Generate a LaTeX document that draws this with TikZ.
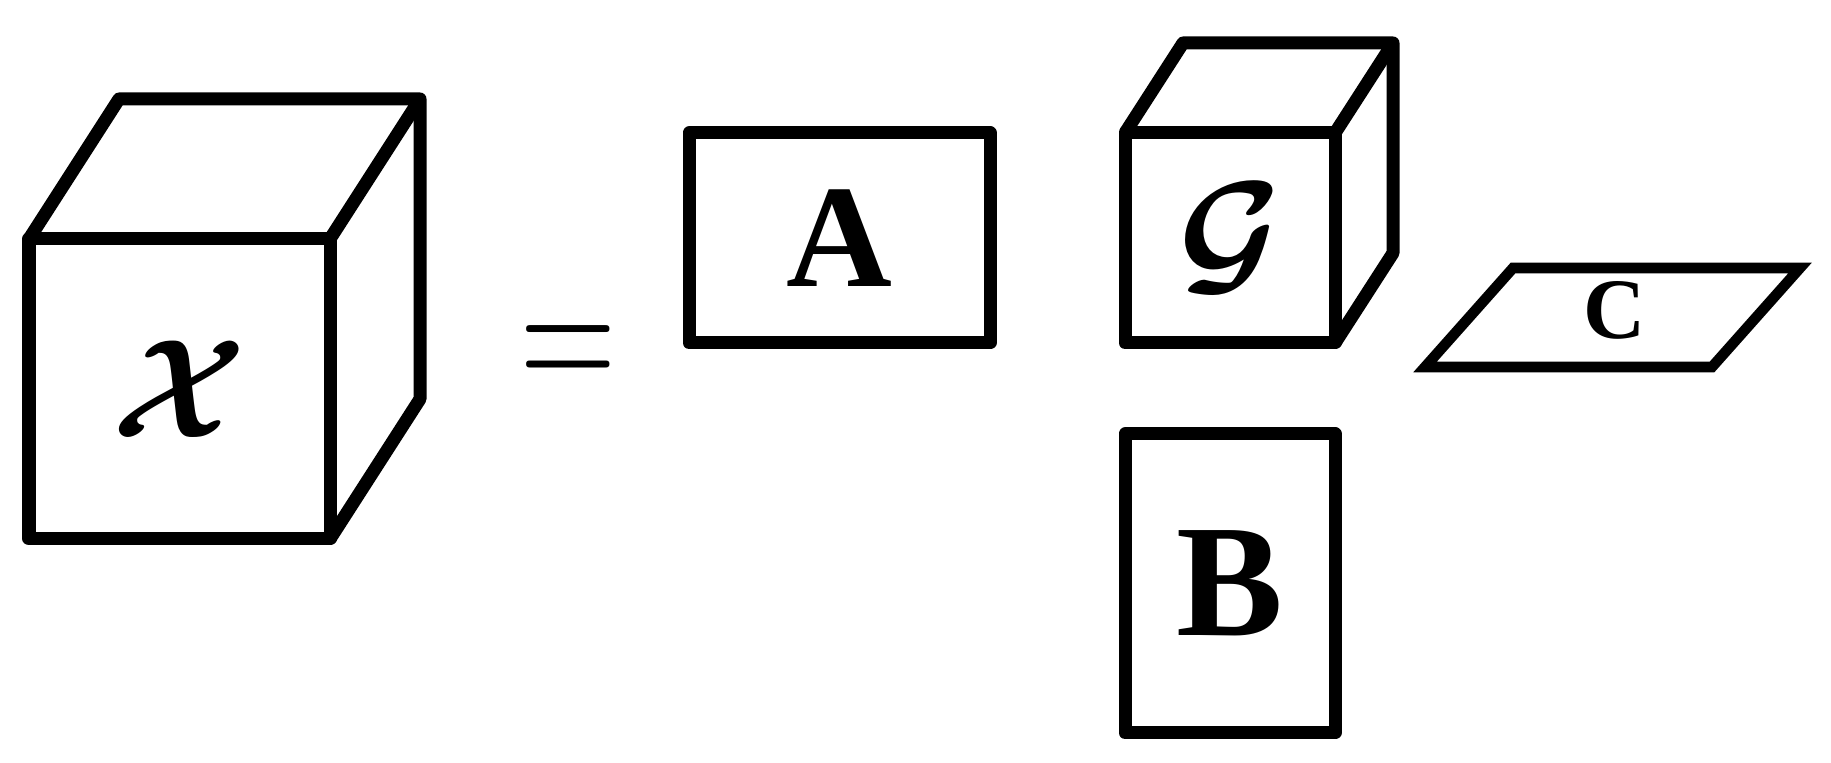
\documentclass[tikz,border=0pt]{standalone}
\usepackage{fix-cm}
\usepackage{amsmath}
\usepackage{graphicx}
\usepackage{fontspec}
\usepackage{tikz}
\usetikzlibrary{positioning}

\newfontfamily\serifbold{Liberation Serif}

\tikzset{
  box/.style={line width=3.7pt, line join=round},
  flat/.style={line width=3pt, line join=miter},
  letter/.style={inner sep=0pt, font=\fontsize{40}{48}\selectfont\boldmath},
  bold letter/.style={inner sep=0pt, font=\serifbold\bfseries\fontsize{#1}{#1}\selectfont}
}

\begin{document}
\begin{tikzpicture}

    \useasboundingbox (0, 0) rectangle (18.31, 7.63);

    % the big cube
    \draw [box] (0.29, 2.24) rectangle (3.30, 5.24);
    \draw [box] (0.29, 5.24) -- (1.19, 6.64) -- (4.20, 6.64) -- (4.20, 3.64) -- (3.30, 2.24);
    \draw [box] (3.30, 5.24) -- (4.20, 6.64);
    \node [letter] (calX) at (1.795, 3.74) {$\mathcal{X}$};

    \node [inner sep=0pt, anchor=base, font=\fontsize{37.8}{45}\selectfont] (eq) at (5.685, 3.66) {\scalebox{1}[1.5]{$=$}};

    % the flat box
    \draw [box] (6.89, 4.20) rectangle (9.90, 6.30);
    \node [bold letter=41.7] (matA) at (8.395, 5.25) {A};

    % the small cube
    \begin{scope}[shift={(11.25, 4.20)}]
      \draw [box] (0, 0) rectangle (2.10, 2.10);
      \draw [box] (0, 2.10) -- (0.58, 3.00) -- (2.68, 3.00) -- (2.68, 0.90) -- (2.10, 0);
      \draw [box] (2.10, 2.10) -- (2.68, 3.00);
      \node [letter] (calG) at (1.05, 1.05) {$\mathcal{G}$};
    \end{scope}

    % the tall box
    \draw [box] (11.25, 0.30) rectangle (13.35, 3.29);
    \node [bold letter=45.6] (matB) at (12.30, 1.795) {B};

    % the sheet
    \draw [flat] (14.25, 3.96) -- (17.12, 3.96) -- (18.00, 4.95) -- (15.13, 4.95) -- cycle;
    \node [bold letter=24.5] (matC) at (16.15, 4.525) {C};

\end{tikzpicture}
\end{document}
